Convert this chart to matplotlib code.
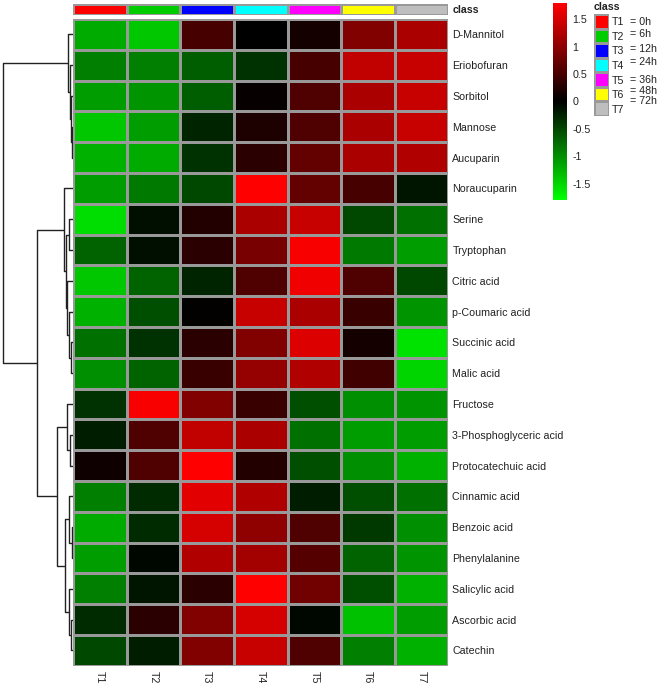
"""
Clustered heatmap of metabolite z-scores over the time course (T1-T7).
"""

import numpy as np
import matplotlib
matplotlib.use('Agg')
import matplotlib.pyplot as plt
from matplotlib.colors import LinearSegmentedColormap, ListedColormap, Normalize
from matplotlib.colorbar import ColorbarBase

plt.rcParams['font.family'] = ['Liberation Sans', 'DejaVu Sans']

# ---- data -----------------------------------------------------------------
metabolites = ['D-Mannitol', 'Eriobofuran', 'Sorbitol', 'Mannose', 'Aucuparin',
               'Noraucuparin', 'Serine', 'Tryptophan', 'Citric acid',
               'p-Coumaric acid', 'Succinic acid', 'Malic acid', 'Fructose',
               '3-Phosphoglyceric acid', 'Protocatechuic acid', 'Cinnamic acid',
               'Benzoic acid', 'Phenylalanine', 'Salicylic acid',
               'Ascorbic acid', 'Catechin']
timepoints = ['T1', 'T2', 'T3', 'T4', 'T5', 'T6', 'T7']
hours = ['= 0h', '= 6h', '= 12h', '= 24h', '= 36h', '= 48h', '= 72h']
class_colors = ['#ff0000', '#00cd00', '#0000ff', '#00ffff', '#ff00ff',
                '#ffff00', '#bebebe']

# z-scores, one row per metabolite (T1..T7)
zscores = [
    [-1.20, -1.40, 0.50, 0.00, 0.15, 0.90, 1.20],
    [-0.90, -0.90, -0.65, -0.35, 0.50, 1.35, 1.40],
    [-1.10, -1.05, -0.65, 0.05, 0.55, 1.20, 1.40],
    [-1.40, -1.10, -0.25, 0.20, 0.55, 1.20, 1.40],
    [-1.25, -1.20, -0.35, 0.30, 0.70, 1.20, 1.25],
    [-1.10, -0.85, -0.50, 1.80, 0.70, 0.50, -0.15],
    [-1.55, -0.10, 0.25, 1.20, 1.40, -0.50, -0.80],
    [-0.70, -0.10, 0.30, 0.85, 1.75, -0.85, -1.10],
    [-1.40, -0.70, -0.25, 0.55, 1.70, 0.55, -0.50],
    [-1.25, -0.55, 0.02, 1.40, 1.20, 0.40, -1.05],
    [-0.80, -0.35, 0.30, 0.90, 1.55, 0.15, -1.60],
    [-1.00, -0.70, 0.40, 1.05, 1.25, 0.45, -1.50],
    [-0.35, 1.75, 0.90, 0.40, -0.55, -1.00, -1.05],
    [-0.20, 0.55, 1.35, 1.20, -0.80, -1.10, -1.10],
    [0.10, 0.55, 1.80, 0.25, -0.55, -1.00, -1.25],
    [-0.90, -0.30, 1.60, 1.25, -0.20, -0.55, -0.80],
    [-1.20, -0.30, 1.50, 1.00, 0.55, -0.40, -1.00],
    [-1.10, -0.05, 1.25, 1.15, 0.60, -0.70, -1.05],
    [-0.90, -0.15, 0.30, 1.80, 0.80, -0.55, -1.25],
    [-0.30, 0.30, 0.90, 1.50, -0.05, -1.35, -1.10],
    [-0.50, -0.20, 0.90, 1.40, 0.55, -0.90, -1.25],
]

# row clustering: (left, right, height); leaves 0..20, new nodes from 21
merges = [
    (3, 4, 1.0), (2, 21, 2.0), (1, 22, 3.0), (0, 23, 5.0),
    (6, 7, 4.0), (10, 11, 2.0), (9, 26, 4.0), (8, 27, 6.0),
    (25, 28, 7.5), (5, 29, 9.0),
    (13, 14, 3.5), (12, 31, 6.0), (16, 17, 1.0), (15, 33, 4.0),
    (19, 20, 2.0), (18, 35, 4.0), (34, 36, 8.0), (32, 37, 16.0),
    (30, 38, 36.0), (24, 39, 70.0),
]

VMIN, VMAX = -1.8, 1.8
W, H = 666, 685


def px(x0, y0, x1, y1):
    """pixel box (top-left origin) -> figure rect"""
    return [x0 / W, 1 - y1 / H, (x1 - x0) / W, (y1 - y0) / H]


cmap = LinearSegmentedColormap.from_list('gbr', ['#00ff00', '#000000', '#ff0000'])
edge = '#999999'
edge_lw = 0.9
txt = '#222222'

fig = plt.figure(figsize=(W / 100, H / 100), dpi=100)

# ---- heatmap ----------------------------------------------------------------
HX0, HX1, HY0, HY1 = 73.3, 448.3, 19, 665.7
ax = fig.add_axes(px(HX0, HY0, HX1, HY1))
vals = np.array(zscores)
ax.pcolormesh(np.arange(len(timepoints) + 1), np.arange(len(metabolites) + 1),
              vals, cmap=cmap, vmin=VMIN, vmax=VMAX,
              edgecolors=edge, linewidth=edge_lw)
ax.set_xlim(0, len(timepoints))
ax.set_ylim(len(metabolites), 0)
for s in ax.spines.values():
    s.set_visible(False)
ax.yaxis.tick_right()
ax.set_yticks(np.arange(len(metabolites)) + 0.5)
ax.set_yticklabels(metabolites, fontsize=7.7, color=txt)
ax.set_xticks(np.arange(len(timepoints)) + 0.5)
ax.set_xticklabels(timepoints, fontsize=7.7, color=txt, rotation=270)
ax.tick_params(axis='y', length=0, pad=3)
ax.tick_params(axis='x', length=0, pad=4)

# ---- class annotation bar ---------------------------------------------------
cax = fig.add_axes(px(HX0, 4, HX1, 15))
cax.pcolormesh(np.arange(len(timepoints) + 1), [0, 1],
               np.arange(len(timepoints))[None, :],
               cmap=ListedColormap(class_colors), vmin=-0.5,
               vmax=len(timepoints) - 0.5, edgecolors=edge, linewidth=edge_lw)
cax.set_axis_off()
fig.text(452.5 / W, 1 - 10 / H, 'class', fontsize=7.7, fontweight='bold',
         color=txt, va='center', ha='left')

# ---- row dendrogram ---------------------------------------------------------
dax = fig.add_axes(px(2, HY0, HX0, HY1))
n = len(metabolites)
ypos = {i: i + 0.5 for i in range(n)}
hgt = {i: 0.0 for i in range(n)}
for k, (a, b, h) in enumerate(merges):
    node = n + k
    dax.plot([hgt[a], h, h, hgt[b]], [ypos[a], ypos[a], ypos[b], ypos[b]],
             color='#222222', lw=1.0, solid_capstyle='butt')
    ypos[node] = (ypos[a] + ypos[b]) / 2
    hgt[node] = h
dax.set_xlim(71.3, 0)
dax.set_ylim(n, 0)
dax.set_axis_off()

# ---- colour key -------------------------------------------------------------
kax = fig.add_axes(px(553, 2.7, 567, 200))
cb = ColorbarBase(kax, cmap=cmap, norm=Normalize(VMIN, VMAX),
                  orientation='vertical', ticks=[-1.5, -1, -0.5, 0, 0.5, 1, 1.5])
cb.outline.set_visible(False)
cb.set_ticklabels(['-1.5', '-1', '-0.5', '0', '0.5', '1', '1.5'])
kax.tick_params(length=0, pad=4, labelsize=7.7, labelcolor=txt)

# ---- class legend -----------------------------------------------------------
lax = fig.add_axes(px(594, 14, 609, 116))
lax.pcolormesh([0, 1], np.arange(len(timepoints) + 1),
               np.arange(len(timepoints))[:, None],
               cmap=ListedColormap(class_colors), vmin=-0.5,
               vmax=len(timepoints) - 0.5, edgecolors=edge, linewidth=edge_lw)
lax.set_ylim(len(timepoints), 0)
lax.set_axis_off()
fig.text(594 / W, 1 - 7 / H, 'class', fontsize=7.7, fontweight='bold',
         color=txt, va='center', ha='left')

box_h = (116 - 14) / len(timepoints)
hour_shift = [1, -2, -1, -3, 0, -3, -8]
for i, (tp, hr) in enumerate(zip(timepoints, hours)):
    yc = 14 + box_h * (i + 0.5)
    fig.text(612 / W, 1 - (yc + 1) / H, tp, fontsize=7.7, color=txt,
             va='center', ha='left')
    fig.text(630 / W, 1 - (yc + hour_shift[i]) / H, hr, fontsize=7.7,
             color=txt, va='center', ha='left')

fig.savefig('out.png', dpi=100)
